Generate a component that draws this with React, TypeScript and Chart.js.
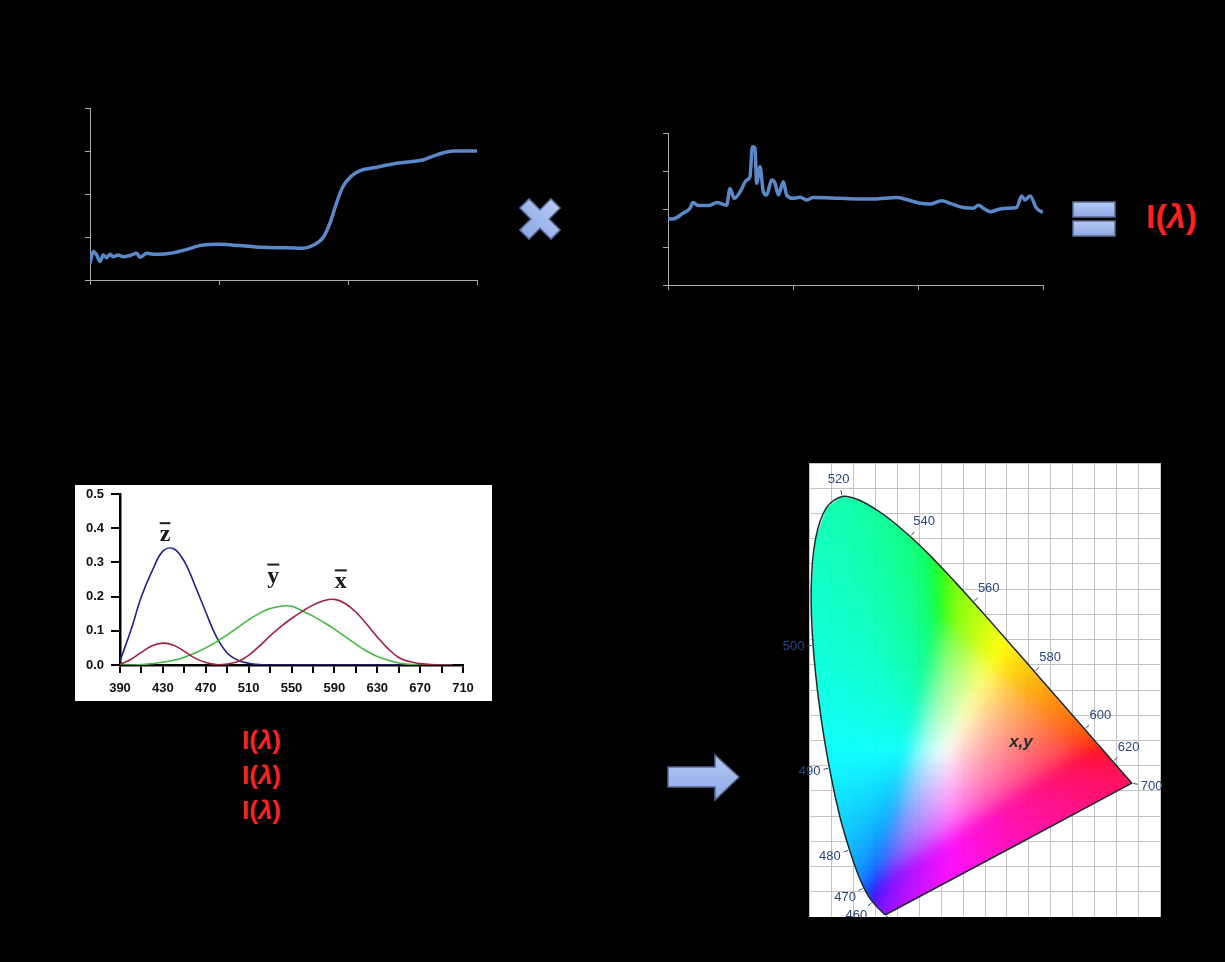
import React, { useEffect, useRef } from "react";
import { Chart, registerables } from "chart.js";

Chart.register(...registerables);

// ---------- Panel 1 (top-left): spectral curve ----------
const refX = [0, 0.026, 0.052, 0.078, 0.103, 0.129, 0.155, 0.181, 0.22, 0.258, 0.31, 0.362, 0.388, 0.44, 0.491, 0.543, 0.62, 0.75, 0.85, 1.0, 1.16, 1.32, 1.53, 1.65, 1.73, 1.81, 1.86, 1.91, 1.96, 2.02, 2.09, 2.2, 2.35, 2.51, 2.58, 2.66, 2.74, 2.82, 3.0];
const refY = [0.39, 0.66, 0.58, 0.43, 0.58, 0.52, 0.6, 0.54, 0.58, 0.54, 0.57, 0.62, 0.53, 0.62, 0.6, 0.6, 0.62, 0.71, 0.8, 0.83, 0.8, 0.76, 0.75, 0.74, 0.81, 1.0, 1.32, 1.78, 2.17, 2.4, 2.54, 2.61, 2.7, 2.76, 2.79, 2.88, 2.96, 3.0, 3.0];

// ---------- Panel 2 (top-right): illuminant spectrum ----------
const illumX = [0, 0.04, 0.12, 0.176, 0.2, 0.243, 0.336, 0.389, 0.469, 0.496, 0.53, 0.576, 0.629, 0.656, 0.675, 0.696, 0.709, 0.736, 0.763, 0.789, 0.829, 0.856, 0.883, 0.923, 0.949, 1.003, 1.056, 1.109, 1.163, 1.376, 1.643, 1.829, 1.909, 2.016, 2.096, 2.189, 2.256, 2.363, 2.443, 2.483, 2.523, 2.576, 2.656, 2.709, 2.789, 2.829, 2.856, 2.896, 2.949, 3.0];
const illumY = [1.75, 1.74, 1.89, 2.02, 2.17, 2.09, 2.1, 2.17, 2.1, 2.54, 2.28, 2.45, 2.76, 2.85, 3.64, 3.6, 2.68, 3.11, 2.45, 2.37, 2.76, 2.68, 2.37, 2.72, 2.37, 2.28, 2.31, 2.24, 2.3, 2.28, 2.26, 2.3, 2.25, 2.15, 2.13, 2.22, 2.15, 2.04, 2.02, 2.1, 2.02, 1.93, 2.0, 2.02, 2.04, 2.34, 2.24, 2.34, 2.02, 1.91];

// ---------- Panel 3: colour matching functions ----------
const cmfWavelengths = [390, 400, 410, 420, 430, 440, 450, 460, 470, 480, 490, 500, 510, 520, 530, 540, 550, 560, 570, 580, 590, 600, 610, 620, 630, 640, 650, 660, 670, 680, 690, 700];
const xBar = [0.002, 0.016, 0.037, 0.056, 0.064, 0.058, 0.04, 0.02, 0.007, 0.001, 0.003, 0.01, 0.028, 0.055, 0.085, 0.112, 0.136, 0.157, 0.175, 0.188, 0.192, 0.18, 0.155, 0.12, 0.082, 0.048, 0.022, 0.01, 0.004, 0.001, 0, 0];
const yBar = [0, 0, 0.001, 0.004, 0.008, 0.014, 0.023, 0.035, 0.05, 0.068, 0.088, 0.11, 0.132, 0.151, 0.165, 0.172, 0.172, 0.158, 0.143, 0.125, 0.105, 0.083, 0.061, 0.041, 0.025, 0.014, 0.006, 0.002, 0, 0, 0, 0];
const zBar = [0.012, 0.1, 0.2, 0.275, 0.333, 0.34, 0.303, 0.232, 0.155, 0.082, 0.035, 0.014, 0.005, 0.001, 0, 0, 0, 0, 0, 0, 0, 0, 0, 0, 0, 0, 0, 0, 0, 0, 0, 0];
const cmfLabels = ["z", "y", "x"];
const cmfLabelNm = [432, 533, 596];
const cmfLabelVal = [0.362, 0.241, 0.224];

// ---------- Panel 4: chromaticity diagram (spectral locus) ----------
const locusWavelengths = [380, 390, 400, 410, 420, 430, 440, 450, 460, 465, 470, 475, 480, 485, 490, 495, 500, 505, 510, 515, 520, 525, 530, 535, 540, 545, 550, 555, 560, 565, 570, 575, 580, 585, 590, 595, 600, 605, 610, 620, 630, 640, 650, 660, 680, 700];
const locusX = [0.1741, 0.1738, 0.1733, 0.1726, 0.1714, 0.1689, 0.1644, 0.1566, 0.144, 0.1355, 0.1241, 0.1096, 0.0913, 0.0687, 0.0454, 0.0235, 0.0082, 0.0039, 0.0139, 0.0389, 0.0743, 0.1142, 0.1547, 0.1929, 0.2296, 0.2658, 0.3016, 0.3373, 0.3731, 0.4087, 0.4441, 0.4788, 0.5125, 0.5448, 0.5752, 0.6029, 0.627, 0.6482, 0.6658, 0.6915, 0.7079, 0.719, 0.726, 0.73, 0.7334, 0.7347];
const locusY = [0.005, 0.0049, 0.0048, 0.0048, 0.0051, 0.0069, 0.0109, 0.0177, 0.0297, 0.0399, 0.0578, 0.0868, 0.1327, 0.2007, 0.295, 0.4127, 0.5384, 0.6548, 0.7502, 0.812, 0.8338, 0.8262, 0.8059, 0.7816, 0.7543, 0.7243, 0.6923, 0.6589, 0.6245, 0.5896, 0.5547, 0.5202, 0.4866, 0.4544, 0.4242, 0.3965, 0.3725, 0.3514, 0.334, 0.3083, 0.292, 0.2809, 0.274, 0.27, 0.2666, 0.2653];
const locusLabelWavelengths = [380, 460, 470, 480, 490, 500, 520, 540, 560, 580, 600, 620, 700];
const chromaLabel = "x,y";
const chromaLabelX = 0.482;
const chromaLabelY = 0.346;

const AXIS_GREY = "#a9a9a9";
const LINE_BLUE = "#5a88c8";

function topLineConfig(xs: number[], ys: number[], padding: any) {
  return {
    type: "line",
    data: {
      datasets: [
        {
          data: xs.map((x, i) => ({ x, y: ys[i] })),
          borderColor: LINE_BLUE,
          borderWidth: 3.5,
          pointRadius: 0,
          cubicInterpolationMode: "monotone",
          fill: false,
        },
      ],
    },
    options: {
      animation: false,
      responsive: false,
      events: [],
      layout: { padding, autoPadding: false },
      plugins: { legend: { display: false }, tooltip: { enabled: false } },
      scales: {
        x: {
          type: "linear",
          min: 0,
          max: 3,
          ticks: { display: false, stepSize: 1 },
          grid: { drawOnChartArea: false, tickLength: 5, color: AXIS_GREY },
          border: { color: AXIS_GREY, width: 1 },
        },
        y: {
          type: "linear",
          min: 0,
          max: 4,
          ticks: { display: false, stepSize: 1 },
          grid: { drawOnChartArea: false, tickLength: 5, color: AXIS_GREY },
          border: { color: AXIS_GREY, width: 1 },
        },
      },
    },
  };
}

const cmfLabelPlugin = {
  id: "cmfLabels",
  afterDatasetsDraw(chart: any) {
    const { ctx, scales } = chart;
    ctx.save();
    ctx.fillStyle = "#1a1a1a";
    ctx.strokeStyle = "#1a1a1a";
    ctx.font = 'bold 24px "Liberation Serif", "DejaVu Serif", serif';
    ctx.textAlign = "center";
    ctx.textBaseline = "alphabetic";
    cmfLabels.forEach((t, i) => {
      const px = scales.x.getPixelForValue(cmfLabelNm[i]);
      const py = scales.y.getPixelForValue(cmfLabelVal[i]);
      ctx.fillText(t, px, py);
      const w = ctx.measureText(t).width;
      ctx.lineWidth = 2;
      ctx.beginPath();
      ctx.moveTo(px - w / 2, py - 18);
      ctx.lineTo(px + w / 2, py - 18);
      ctx.stroke();
    });
    ctx.restore();
  },
};

function cmfConfig() {
  const font = { family: '"Liberation Sans", Arial, sans-serif', weight: "bold", size: 13 };
  const mk = (arr: number[], color: string) => ({
    data: cmfWavelengths.map((w, i) => ({ x: w, y: arr[i] })),
    borderColor: color,
    borderWidth: 1.6,
    pointRadius: 0,
    tension: 0.4,
    fill: false,
  });
  return {
    type: "line",
    data: { datasets: [mk(xBar, "#a02241"), mk(yBar, "#3fbb3f"), mk(zBar, "#22228a")] },
    options: {
      animation: false,
      responsive: false,
      events: [],
      layout: { padding: { top: 9, right: 29, left: 0, bottom: 0 }, autoPadding: false },
      plugins: { legend: { display: false }, tooltip: { enabled: false } },
      scales: {
        x: {
          type: "linear",
          min: 390,
          max: 710,
          z: 1,
          afterFit: (s: any) => {
            s.height = 36;
            s.paddingLeft = 0;
            s.paddingRight = 0;
          },
          ticks: {
            stepSize: 20,
            autoSkip: false,
            maxRotation: 0,
            padding: 8,
            color: "#111",
            font,
            callback: (v: any) => (Math.round(v - 390) % 40 === 0 ? String(Math.round(v)) : ""),
          },
          grid: { drawOnChartArea: false, tickLength: 8, color: "#000", lineWidth: 2 },
          border: { color: "#000", width: 2.5 },
        },
        y: {
          type: "linear",
          min: 0,
          max: 0.5,
          z: 1,
          afterFit: (s: any) => {
            s.width = 45;
            s.paddingTop = 0;
            s.paddingBottom = 0;
          },
          ticks: {
            stepSize: 0.1,
            padding: 7,
            color: "#111",
            font,
            callback: (v: any) => Number(v).toFixed(1),
          },
          grid: { drawOnChartArea: false, tickLength: 9, color: "#000", lineWidth: 2 },
          border: { color: "#000", width: 2.5 },
        },
      },
    },
    plugins: [cmfLabelPlugin],
  };
}

// chromaticity (x, y) -> display colour (sRGB, out-of-gamut colours desaturated by adding white)
function chromaToRgb(x: number, y: number): [number, number, number] {
  const yy = Math.max(y, 1e-3);
  const X = x / yy;
  const Z = Math.max(0, 1 - x - yy) / yy;
  let r = 3.2406 * X - 1.5372 - 0.4986 * Z;
  let g = -0.9689 * X + 1.8758 + 0.0415 * Z;
  let b = 0.0557 * X - 0.204 + 1.057 * Z;
  const mn = Math.min(r, g, b);
  if (mn < 0) {
    r -= mn;
    g -= mn;
    b -= mn;
  }
  const m = Math.max(r, g, b, 1e-6);
  const enc = (c: number) => {
    c = c / m;
    c = c <= 0.0031308 ? 12.92 * c : 1.055 * Math.pow(c, 1 / 2.4) - 0.055;
    return Math.round(255 * Math.min(1, Math.max(0, c)));
  };
  return [enc(r), enc(g), enc(b)];
}

function locusPath(ctx: CanvasRenderingContext2D, xs: any, ys: any) {
  ctx.beginPath();
  locusX.forEach((lx, k) => {
    const px = xs.getPixelForValue(lx);
    const py = ys.getPixelForValue(locusY[k]);
    if (k === 0) ctx.moveTo(px, py);
    else ctx.lineTo(px, py);
  });
  ctx.closePath();
}

const chromaPlugin = {
  id: "chroma",
  beforeDraw(chart: any) {
    const { ctx, chartArea: a } = chart;
    ctx.save();
    ctx.fillStyle = "#ffffff";
    ctx.fillRect(a.left, a.top, a.right - a.left, a.bottom - a.top);
    ctx.restore();
  },
  beforeDatasetsDraw(chart: any) {
    const { ctx, chartArea: a, scales } = chart;
    const xs = scales.x;
    const ys = scales.y;
    const M = 24;
    const w = Math.ceil(a.right - a.left) + 2 * M;
    const h = Math.ceil(a.bottom - a.top) + 2 * M;
    const off = document.createElement("canvas");
    off.width = w;
    off.height = h;
    const octx = off.getContext("2d")!;
    const img = octx.createImageData(w, h);
    for (let j = 0; j < h; j++) {
      const cy = ys.getValueForPixel(a.top - M + j + 0.5);
      for (let i = 0; i < w; i++) {
        const cx = xs.getValueForPixel(a.left - M + i + 0.5);
        const [r, g, b] = chromaToRgb(Math.max(0, cx), cy);
        const o = (j * w + i) * 4;
        img.data[o] = r;
        img.data[o + 1] = g;
        img.data[o + 2] = b;
        img.data[o + 3] = 255;
      }
    }
    octx.putImageData(img, 0, 0);
    const blurred = document.createElement("canvas");
    blurred.width = w;
    blurred.height = h;
    const bctx = blurred.getContext("2d")!;
    bctx.filter = "blur(7px)";
    bctx.drawImage(off, 0, 0);
    ctx.save();
    locusPath(ctx, xs, ys);
    ctx.clip();
    ctx.globalAlpha = 0.93;
    ctx.drawImage(blurred, a.left - M, a.top - M);
    ctx.restore();
  },
  afterDatasetsDraw(chart: any) {
    const { ctx, scales } = chart;
    const xs = scales.x;
    const ys = scales.y;
    const n = locusX.length;
    const pts = locusX.map((lx, k) => [xs.getPixelForValue(lx), ys.getPixelForValue(locusY[k])]);
    const edgeNormal = (p: number[], q: number[]) => {
      const dx = q[0] - p[0];
      const dy = q[1] - p[1];
      const len = Math.hypot(dx, dy);
      if (len < 0.5) return [0, 0];
      return [dy / len, -dx / len];
    };
    ctx.save();
    ctx.font = '13px "Liberation Sans", Arial, sans-serif';
    ctx.fillStyle = "#2b4780";
    ctx.strokeStyle = "#2b4780";
    ctx.lineWidth = 1;
    ctx.textAlign = "center";
    ctx.textBaseline = "middle";
    locusLabelWavelengths.forEach((wl) => {
      const k = locusWavelengths.indexOf(wl);
      const p = pts[k];
      const prev = pts[(k - 1 + n) % n];
      const next = pts[(k + 1) % n];
      const n1 = edgeNormal(prev, p);
      const n2 = edgeNormal(p, next);
      let nx = n1[0] + n2[0];
      let ny = n1[1] + n2[1];
      const l = Math.hypot(nx, ny) || 1;
      nx /= l;
      ny /= l;
      ctx.beginPath();
      ctx.moveTo(p[0] + nx * 1.5, p[1] + ny * 1.5);
      ctx.lineTo(p[0] + nx * 6, p[1] + ny * 6);
      ctx.stroke();
      const d = 8 + Math.abs(nx) * 11 + Math.abs(ny) * 7;
      ctx.fillText(String(wl), p[0] + nx * d, p[1] + ny * d);
    });
    ctx.font = 'italic bold 17px "Liberation Sans", Arial, sans-serif';
    ctx.fillStyle = "#2a2a2a";
    ctx.fillText(chromaLabel, xs.getPixelForValue(chromaLabelX), ys.getPixelForValue(chromaLabelY));
    ctx.restore();
  },
};

function chromaConfig() {
  const loop = locusX.map((x, i) => ({ x, y: locusY[i] }));
  loop.push({ x: locusX[0], y: locusY[0] });
  const hiddenAxis = (max: number, fitKey: string) => ({
    type: "linear",
    min: 0,
    max,
    afterFit: (s: any) => {
      s[fitKey] = 0;
    },
    ticks: { display: false, stepSize: 0.05 },
    grid: { drawTicks: false, color: "#c4c4c4", lineWidth: 1 },
    border: { display: false },
  });
  return {
    type: "scatter",
    data: {
      datasets: [
        {
          data: loop,
          showLine: true,
          borderColor: "#1d2b2b",
          borderWidth: 1.5,
          pointRadius: 0,
          tension: 0.3,
          fill: false,
          clip: false,
        },
      ],
    },
    options: {
      animation: false,
      responsive: false,
      events: [],
      layout: { padding: { left: 34.5, right: 4.5, top: 0, bottom: 0 }, autoPadding: false },
      plugins: { legend: { display: false }, tooltip: { enabled: false } },
      scales: {
        x: hiddenAxis(0.8, "height"),
        y: hiddenAxis(0.9, "width"),
      },
    },
    plugins: [chromaPlugin],
  };
}

function ChartCanvas(props: { left: number; top: number; width: number; height: number; bg?: string; build: () => any }) {
  const ref = useRef<HTMLCanvasElement>(null);
  useEffect(() => {
    const chart = new Chart(ref.current as HTMLCanvasElement, props.build());
    return () => chart.destroy();
  }, []);
  return (
    <canvas
      ref={ref}
      width={props.width}
      height={props.height}
      style={{
        position: "absolute",
        left: props.left,
        top: props.top,
        width: props.width,
        height: props.height,
        background: props.bg || "transparent",
      }}
    />
  );
}

const redText: React.CSSProperties = {
  position: "absolute",
  color: "#ff2020",
  fontFamily: '"Liberation Sans", Arial, sans-serif',
  fontWeight: "bold",
  whiteSpace: "nowrap",
};

export default function App() {
  return (
    <div
      style={{
        position: "fixed",
        left: 0,
        top: 0,
        width: 1225,
        height: 962,
        background: "#000",
        overflow: "hidden",
      }}
    >
      <svg width={1225} height={962} style={{ position: "absolute", left: 0, top: 0 }}>
        <defs>
          <linearGradient id="iconGrad" x1="0" y1="0" x2="0" y2="1">
            <stop offset="0" stopColor="#b5c9f5" />
            <stop offset="1" stopColor="#8ea8e4" />
          </linearGradient>
        </defs>
        <g transform="translate(540 219) rotate(45)">
          <path
            d="M-6.5,-22 H6.5 V-6.5 H22 V6.5 H6.5 V22 H-6.5 V6.5 H-22 V-6.5 H-6.5 Z"
            fill="url(#iconGrad)"
            stroke="#56658f"
            strokeWidth={1.5}
          />
        </g>
        <rect x={1073} y={202} width={42} height={15} fill="url(#iconGrad)" stroke="#5d6b8d" strokeWidth={1.5} />
        <rect x={1073} y={221} width={42} height={15} fill="url(#iconGrad)" stroke="#5d6b8d" strokeWidth={1.5} />
        <path
          d="M668,767 H715 V755 L739,777 L715,800 V787 H668 Z"
          fill="url(#iconGrad)"
          stroke="#56658f"
          strokeWidth={1.5}
        />
      </svg>

      <ChartCanvas left={60} top={90} width={440} height={210} build={() => topLineConfig(refX, refY, { left: 25, top: 18, right: 23, bottom: 15 })} />
      <ChartCanvas left={640} top={120} width={420} height={180} build={() => topLineConfig(illumX, illumY, { left: 23, top: 13, right: 17, bottom: 10 })} />
      <ChartCanvas left={75} top={485} width={417} height={216} bg="#ffffff" build={cmfConfig} />
      <ChartCanvas left={775} top={463} width={390} height={454} build={chromaConfig} />

      <div style={{ ...redText, left: 1146, top: 199, fontSize: 34, lineHeight: "34px" }}>
        I(<i>λ</i>)
      </div>
      <div style={{ ...redText, left: 242, top: 723, fontSize: 26, lineHeight: "35px" }}>
        <div>
          I(<i>λ</i>)
        </div>
        <div>
          I(<i>λ</i>)
        </div>
        <div>
          I(<i>λ</i>)
        </div>
      </div>
    </div>
  );
}
